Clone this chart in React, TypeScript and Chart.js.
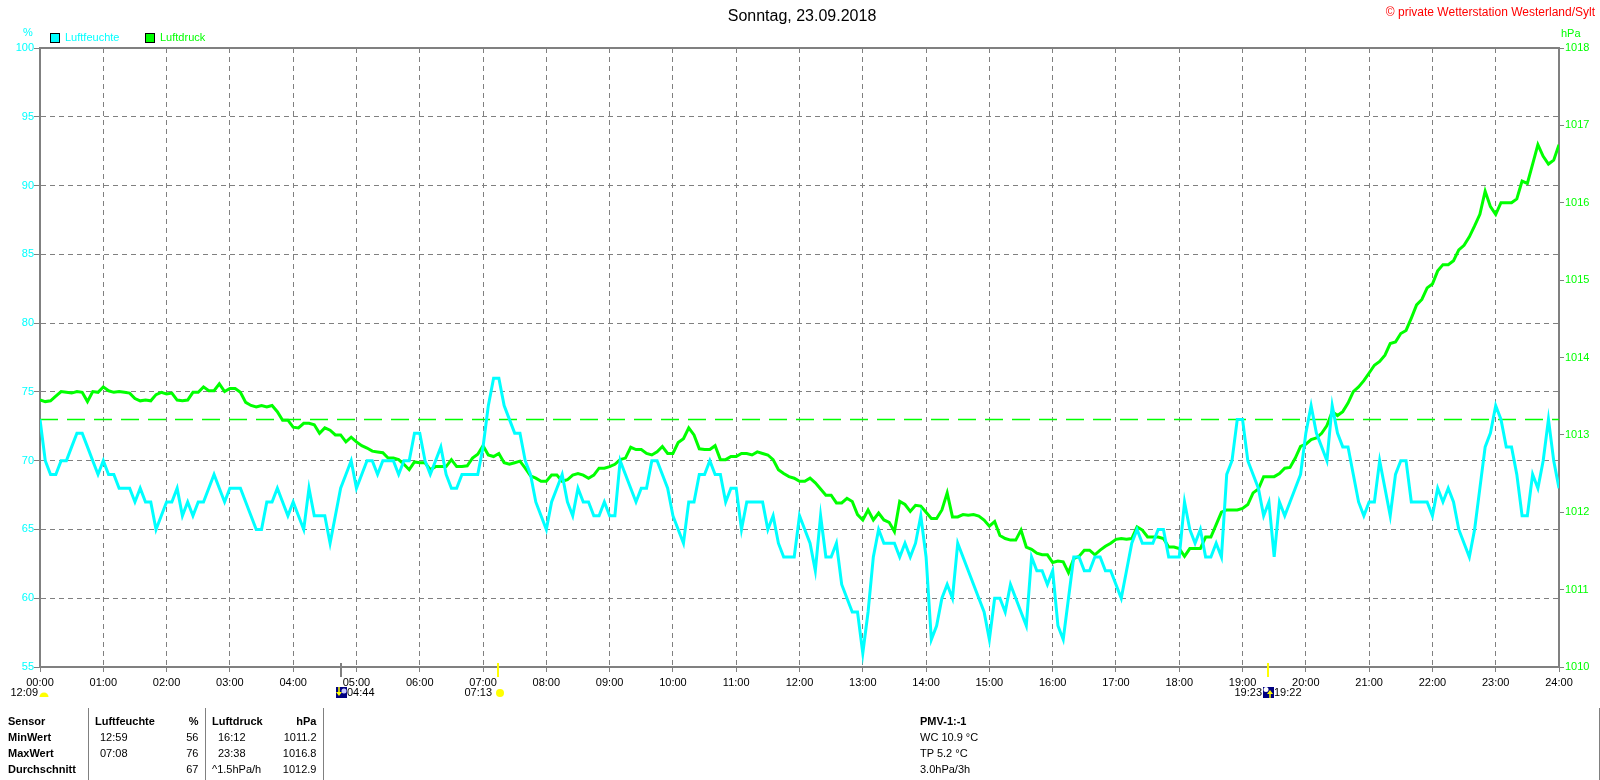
import React, { useEffect, useRef } from "react";
import { Chart, registerables } from "chart.js";

Chart.register(...registerables);

const FONT = "'Liberation Sans', Arial, Helvetica, sans-serif";

// one reading every 5 minutes, 00:00 ... 24:00
const STEP_MIN = 5;

const humidity = [
  // 00:00 - 05:55
  73, 70, 69, 69, 70, 70, 71, 72, 72, 71, 70, 69,
  70, 69, 69, 68, 68, 68, 67, 68, 67, 67, 65, 66,
  67, 67, 68, 66, 67, 66, 67, 67, 68, 69, 68, 67,
  68, 68, 68, 67, 66, 65, 65, 67, 67, 68, 67, 66,
  67, 66, 65, 68, 66, 66, 66, 64, 66, 68, 69, 70,
  68, 69, 70, 70, 69, 70, 70, 70, 69, 70, 70, 72,
  // 06:00 - 11:55
  72, 70, 69, 70, 71, 69, 68, 68, 69, 69, 69, 69,
  71, 74, 76, 76, 74, 73, 72, 72, 70, 69, 67, 66,
  65, 67, 68, 69, 67, 66, 68, 67, 67, 66, 66, 67,
  66, 66, 70, 69, 68, 67, 68, 68, 70, 70, 69, 68,
  66, 65, 64, 67, 67, 69, 69, 70, 69, 69, 67, 68,
  68, 65, 67, 67, 67, 67, 65, 66, 64, 63, 63, 63,
  // 12:00 - 17:55
  66, 65, 64, 62, 66, 63, 63, 64, 61, 60, 59, 59,
  56, 59, 63, 65, 64, 64, 64, 63, 64, 63, 64, 66,
  63, 57, 58, 60, 61, 60, 64, 63, 62, 61, 60, 59,
  57, 60, 60, 59, 61, 60, 59, 58, 63, 62, 62, 61,
  62, 58, 57, 60, 63, 63, 62, 62, 63, 63, 62, 62,
  61, 60, 62, 64, 65, 64, 64, 64, 65, 65, 63, 63,
  // 18:00 - 23:55
  63, 67, 65, 64, 65, 63, 63, 64, 63, 69, 70, 73,
  73, 70, 69, 68, 66, 67, 63, 67, 66, 67, 68, 69,
  72, 74, 72, 71, 70, 74, 72, 71, 71, 69, 67, 66,
  67, 67, 70, 68, 66, 69, 70, 70, 67, 67, 67, 67,
  66, 68, 67, 68, 67, 65, 64, 63, 65, 68, 71, 72,
  74, 73, 71, 71, 69, 66, 66, 69, 68, 70, 73, 70,
  // 24:00
  68,
];

const pressure = [
  // 00:00 - 05:55
  1013.45, 1013.43, 1013.44, 1013.5, 1013.56, 1013.55, 1013.54, 1013.56, 1013.55, 1013.43, 1013.56, 1013.55,
  1013.62, 1013.57, 1013.55, 1013.56, 1013.55, 1013.54, 1013.47, 1013.44, 1013.45, 1013.44, 1013.52, 1013.55,
  1013.53, 1013.54, 1013.45, 1013.44, 1013.45, 1013.55, 1013.55, 1013.62, 1013.57, 1013.57, 1013.66, 1013.56,
  1013.6, 1013.6, 1013.55, 1013.42, 1013.38, 1013.36, 1013.38, 1013.36, 1013.38, 1013.3, 1013.19, 1013.19,
  1013.1, 1013.09, 1013.15, 1013.15, 1013.13, 1013.02, 1013.09, 1013.06, 1013.0, 1013.0, 1012.91, 1012.97,
  1012.91, 1012.86, 1012.83, 1012.79, 1012.78, 1012.77, 1012.7, 1012.7, 1012.68, 1012.62, 1012.55, 1012.65,
  // 06:00 - 11:55
  1012.64, 1012.64, 1012.55, 1012.59, 1012.59, 1012.59, 1012.68, 1012.59, 1012.59, 1012.6, 1012.7, 1012.75,
  1012.86, 1012.74, 1012.72, 1012.76, 1012.64, 1012.62, 1012.64, 1012.66, 1012.57, 1012.47, 1012.44, 1012.4,
  1012.4, 1012.48, 1012.48, 1012.4, 1012.42, 1012.48, 1012.5, 1012.48, 1012.44, 1012.48, 1012.57, 1012.57,
  1012.59, 1012.62, 1012.68, 1012.7, 1012.84, 1012.81, 1012.81, 1012.76, 1012.74, 1012.78, 1012.85, 1012.76,
  1012.76, 1012.9, 1012.95, 1013.09, 1013.0, 1012.82, 1012.81, 1012.81, 1012.86, 1012.68, 1012.68, 1012.72,
  1012.72, 1012.76, 1012.76, 1012.74, 1012.78, 1012.76, 1012.74, 1012.68, 1012.55, 1012.5, 1012.46, 1012.44,
  // 12:00 - 17:55
  1012.4, 1012.4, 1012.44, 1012.38, 1012.3, 1012.22, 1012.22, 1012.12, 1012.12, 1012.18, 1012.14, 1011.97,
  1011.9, 1012.03, 1011.9, 1011.99, 1011.9, 1011.87, 1011.75, 1012.14, 1012.1, 1012.01, 1012.09, 1012.08,
  1012.0, 1011.92, 1011.92, 1012.03, 1012.25, 1011.94, 1011.94, 1011.97, 1011.96, 1011.97, 1011.95, 1011.9,
  1011.82, 1011.88, 1011.7, 1011.66, 1011.64, 1011.64, 1011.77, 1011.55, 1011.52, 1011.47, 1011.45, 1011.45,
  1011.35, 1011.37, 1011.36, 1011.22, 1011.4, 1011.43, 1011.51, 1011.51, 1011.45, 1011.51, 1011.56, 1011.6,
  1011.65, 1011.66, 1011.65, 1011.66, 1011.81, 1011.77, 1011.68, 1011.68, 1011.68, 1011.66, 1011.55, 1011.55,
  // 18:00 - 23:55
  1011.53, 1011.43, 1011.53, 1011.53, 1011.53, 1011.68, 1011.68, 1011.84, 1012.0, 1012.03, 1012.03, 1012.03,
  1012.05, 1012.1, 1012.25, 1012.3, 1012.46, 1012.46, 1012.46, 1012.5, 1012.57, 1012.58, 1012.7, 1012.85,
  1012.88, 1012.94, 1012.96, 1013.02, 1013.12, 1013.3, 1013.25, 1013.3, 1013.41, 1013.56, 1013.62, 1013.7,
  1013.8, 1013.9, 1013.95, 1014.03, 1014.18, 1014.2, 1014.31, 1014.35, 1014.51, 1014.68, 1014.75, 1014.9,
  1014.95, 1015.12, 1015.2, 1015.2, 1015.25, 1015.39, 1015.45, 1015.56, 1015.7, 1015.85, 1016.15, 1015.95,
  1015.85, 1016.0, 1016.0, 1016.0, 1016.05, 1016.28, 1016.25, 1016.5, 1016.75, 1016.6, 1016.5, 1016.55,
  // 24:00
  1016.75,
];

const referencePressure = 1013.2;

const hourLabels = [
  "00:00", "01:00", "02:00", "03:00", "04:00", "05:00", "06:00", "07:00", "08:00",
  "09:00", "10:00", "11:00", "12:00", "13:00", "14:00", "15:00", "16:00", "17:00",
  "18:00", "19:00", "20:00", "21:00", "22:00", "23:00", "24:00",
];

const seriesNames = ["Luftfeuchte", "Luftdruck"];

// sun / moon events shown under the time axis (minute of day)
const astroEvents = [
  { minute: 0, before: "12:09", after: "", icon: "sunHalf", tick: "" },
  { minute: 284, before: "", after: "04:44", icon: "navyDown", tick: "grey" },
  { minute: 433, before: "07:13", after: "", icon: "sun", tick: "yellow" },
  { minute: 1163, before: "19:23", after: "19:22", icon: "navyUp", tick: "yellow" },
];

const statHeader = ["Sensor", "Luftfeuchte", "%", "Luftdruck", "hPa"];
const statRows = [
  ["MinWert", "12:59", "56", "16:12", "1011.2"],
  ["MaxWert", "07:08", "76", "23:38", "1016.8"],
  ["Durchschnitt", "", "67", "^1.5hPa/h", "1012.9"],
];
const pmvLines = ["PMV-1:-1", "WC 10.9 °C", "TP 5.2 °C", "3.0hPa/3h"];

const CYAN = "#00FFFF";
const GREEN = "#00FF00";
const GREY = "#808080";

const extrasPlugin = {
  id: "extras",
  afterDraw(chart: any) {
    const { ctx, chartArea, scales } = chart;
    const xs = scales.x;
    ctx.save();
    // top frame line
    ctx.strokeStyle = GREY;
    ctx.lineWidth = 2;
    ctx.beginPath();
    ctx.moveTo(chartArea.left - 1, chartArea.top);
    ctx.lineTo(chartArea.right + 1, chartArea.top);
    ctx.stroke();

    const base = chartArea.bottom;
    ctx.font = `11px ${FONT}`;
    ctx.textBaseline = "middle";
    const ty = base + 26;
    for (const ev of astroEvents) {
      const x = Math.round(xs.getPixelForValue(ev.minute));
      if (ev.tick) {
        ctx.fillStyle = ev.tick === "yellow" ? "#FFFF00" : GREY;
        ctx.fillRect(x, base - 4, 2, 14);
      }
      let beforeX = x - 5;
      let afterX = x + 7;
      if (ev.icon === "sunHalf") {
        ctx.fillStyle = "#FFFF00";
        ctx.beginPath();
        ctx.arc(x + 4, ty + 4, 4.5, Math.PI, 2 * Math.PI);
        ctx.fill();
        beforeX = x - 2;
      } else if (ev.icon === "sun") {
        ctx.fillStyle = "#FFFF00";
        ctx.beginPath();
        ctx.arc(x + 3, ty, 4, 0, 2 * Math.PI);
        ctx.fill();
      } else if (ev.icon === "navyDown" || ev.icon === "navyUp") {
        const up = ev.icon === "navyUp";
        const left = x - 4;
        ctx.fillStyle = "#000080";
        ctx.fillRect(left, ty - 6, 11, 11);
        ctx.fillStyle = up ? "#FFFFFF" : "#C8C8FF";
        ctx.beginPath();
        if (up) ctx.arc(left + 3, ty - 3.5, 2.5, 0, 2 * Math.PI);
        else ctx.arc(left + 8, ty - 2, 2.5, 0, 2 * Math.PI);
        ctx.fill();
        ctx.strokeStyle = "#FFFF00";
        ctx.fillStyle = "#FFFF00";
        ctx.lineWidth = 1.5;
        const ax = up ? left + 7 : left + 3;
        ctx.beginPath();
        if (up) {
          ctx.moveTo(ax, ty + 5);
          ctx.lineTo(ax, ty - 1);
        } else {
          ctx.moveTo(ax, ty - 6);
          ctx.lineTo(ax, ty);
        }
        ctx.stroke();
        ctx.beginPath();
        if (up) {
          ctx.moveTo(ax - 3, ty + 1);
          ctx.lineTo(ax + 3, ty + 1);
          ctx.lineTo(ax, ty - 3);
        } else {
          ctx.moveTo(ax - 3, ty - 1);
          ctx.lineTo(ax + 3, ty - 1);
          ctx.lineTo(ax, ty + 3);
        }
        ctx.closePath();
        ctx.fill();
        beforeX = left - 1;
        afterX = left + 11;
      }
      ctx.fillStyle = "#000";
      if (ev.before) {
        ctx.textAlign = "right";
        ctx.fillText(ev.before, beforeX, ty);
      }
      if (ev.after) {
        ctx.textAlign = "left";
        ctx.fillText(ev.after, afterX, ty);
      }
    }
    ctx.restore();
  },
};

const isTime = (s: string) => /^\d\d:\d\d$/.test(s);

function Txt(props: {
  x: number;
  y: number;
  text: string;
  color?: string;
  size?: number;
  bold?: boolean;
  align?: "left" | "right" | "center";
}) {
  const { x, y, text, color = "#000", size = 11, bold = false, align = "left" } = props;
  const style: React.CSSProperties = {
    position: "absolute",
    top: y,
    color,
    fontSize: size,
    fontWeight: bold ? "bold" : "normal",
    lineHeight: `${Math.round(size * 1.2)}px`,
    whiteSpace: "pre",
    fontFamily: FONT,
  };
  if (align === "left") style.left = x;
  else if (align === "right") style.right = 1600 - x;
  else {
    style.left = x - 200;
    style.width = 400;
    style.textAlign = "center";
  }
  return <span style={style}>{text}</span>;
}

export default function App() {
  const ref = useRef<HTMLCanvasElement>(null);

  useEffect(() => {
    document.body.style.margin = "0";
    const canvas = ref.current!;
    const chart = new Chart(canvas, {
      type: "line",
      data: {
        datasets: [
          {
            label: seriesNames[0],
            data: humidity.map((v, i) => ({ x: i * STEP_MIN, y: v })),
            yAxisID: "y",
            borderColor: CYAN,
            borderWidth: 3,
            pointRadius: 0,
            tension: 0,
          },
          {
            label: seriesNames[1],
            data: pressure.map((v, i) => ({ x: i * STEP_MIN, y: v })),
            yAxisID: "y1",
            borderColor: GREEN,
            borderWidth: 3,
            pointRadius: 0,
            tension: 0,
          },
          {
            label: "ref",
            data: [
              { x: 0, y: referencePressure },
              { x: (hourLabels.length - 1) * 60, y: referencePressure },
            ],
            yAxisID: "y1",
            borderColor: GREEN,
            borderWidth: 1.5,
            borderDash: [18, 9],
            pointRadius: 0,
          },
        ],
      },
      options: {
        responsive: false,
        devicePixelRatio: 1,
        animation: false,
        events: [],
        layout: { padding: { top: 48, left: 0, right: 0, bottom: 0 } },
        plugins: {
          legend: { display: false },
          title: { display: false },
          tooltip: { enabled: false },
        },
        scales: {
          x: {
            type: "linear",
            position: "bottom",
            min: 0,
            max: (hourLabels.length - 1) * 60,
            afterFit: (s: any) => {
              s.height = 113;
            },
            ticks: {
              stepSize: 60,
              autoSkip: false,
              maxRotation: 0,
              padding: 4,
              color: "#000",
              font: { family: FONT, size: 11 },
              callback: (v: any) => hourLabels[Math.round(Number(v) / 60)],
            },
            grid: {
              color: GREY,
              lineWidth: 1,
              tickLength: 5,
              tickColor: GREY,
            },
            border: { color: GREY, width: 2, dash: [5, 4] },
          },
          y: {
            type: "linear",
            position: "left",
            min: 55,
            max: 100,
            afterFit: (s: any) => {
              s.width = 40;
            },
            ticks: {
              stepSize: 5,
              padding: 0,
              color: CYAN,
              font: { family: FONT, size: 11 },
              callback: (v: any) => String(v),
            },
            grid: {
              color: GREY,
              lineWidth: 1,
              tickLength: 6,
              tickColor: GREY,
            },
            border: { color: GREY, width: 2, dash: [5, 4] },
          },
          y1: {
            type: "linear",
            position: "right",
            min: 1010,
            max: 1018,
            afterFit: (s: any) => {
              s.width = 41;
            },
            ticks: {
              stepSize: 1,
              padding: 1,
              color: GREEN,
              font: { family: FONT, size: 11 },
              callback: (v: any) => String(v),
            },
            grid: {
              drawOnChartArea: false,
              color: GREY,
              tickLength: 5,
              tickColor: GREY,
            },
            border: { color: GREY, width: 2 },
          },
        },
      },
      plugins: [extrasPlugin],
    } as any);
    return () => chart.destroy();
  }, []);

  const rowY = [715, 731, 747, 763];
  const sepStyle = (x: number): React.CSSProperties => ({
    position: "absolute",
    left: x,
    top: 708,
    width: 1,
    height: 72,
    background: GREY,
  });

  return (
    <div
      style={{
        position: "relative",
        width: 1600,
        height: 780,
        overflow: "hidden",
        background: "#fff",
        fontFamily: FONT,
      }}
    >
      <canvas
        ref={ref}
        width={1600}
        height={780}
        style={{ position: "absolute", left: 0, top: 0, width: 1600, height: 780 }}
      />
      <Txt x={802} y={5.5} text="Sonntag, 23.09.2018" size={16} align="center" />
      <Txt x={1595} y={4.5} text="© private Wetterstation Westerland/Sylt" size={12} color="#FF0000" align="right" />
      <Txt x={23} y={25.5} text="%" color={CYAN} />
      <Txt x={1561} y={26.5} text="hPa" color={GREEN} />
      <span
        style={{
          position: "absolute",
          left: 50,
          top: 33,
          width: 8,
          height: 8,
          background: CYAN,
          border: "1px solid #000",
        }}
      />
      <Txt x={65} y={30.5} text={seriesNames[0]} color={CYAN} />
      <span
        style={{
          position: "absolute",
          left: 145,
          top: 33,
          width: 8,
          height: 8,
          background: GREEN,
          border: "1px solid #000",
        }}
      />
      <Txt x={160} y={30.5} text={seriesNames[1]} color={GREEN} />

      <div style={sepStyle(88)} />
      <div style={sepStyle(205)} />
      <div style={sepStyle(323)} />
      <div style={sepStyle(1599)} />

      {[statHeader, ...statRows].map((row, r) => {
        const y = rowY[r];
        const header = r === 0;
        return (
          <React.Fragment key={r}>
            <Txt x={8} y={y} text={row[0]} bold />
            <Txt x={isTime(row[1]) ? 100 : 95} y={y} text={row[1]} bold={header} />
            <Txt x={198.5} y={y} text={row[2]} bold={header} align="right" />
            <Txt x={isTime(row[3]) ? 218 : 212} y={y} text={row[3]} bold={header} />
            <Txt x={316.5} y={y} text={row[4]} bold={header} align="right" />
          </React.Fragment>
        );
      })}
      {pmvLines.map((t, i) => (
        <Txt key={i} x={920} y={rowY[i]} text={t} bold={i === 0} />
      ))}
    </div>
  );
}
